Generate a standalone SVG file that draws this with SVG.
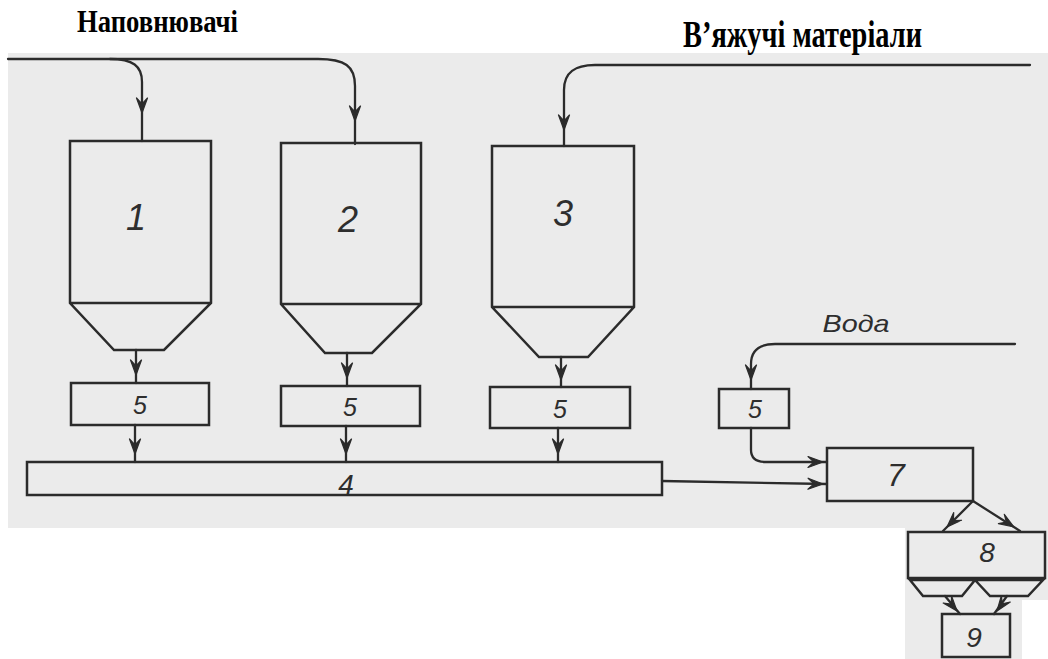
<svg xmlns="http://www.w3.org/2000/svg" xmlns:xlink="http://www.w3.org/1999/xlink" width="1048" height="659" viewBox="0 0 1048 659">
<style>
.ln{fill:none;stroke:#2b2b2b;stroke-width:2.3;stroke-linejoin:round;stroke-linecap:round}
.bx{fill:none;stroke:#2b2b2b;stroke-width:2.5;stroke-linejoin:miter}
.hd{font-family:"Liberation Sans","DejaVu Sans",sans-serif;font-style:italic;fill:#2e2e2e;text-anchor:middle}
.ttl{font-family:"Liberation Serif","DejaVu Serif",serif;font-weight:bold;fill:#000}
</style>
<defs>
<path id="ah" d="M0,0 L-15,-5.5 L-9,0 L-15,5.5 Z" fill="#2b2b2b" stroke="#2b2b2b" stroke-width="1.2" stroke-linejoin="round"/>
</defs>
<rect width="1048" height="659" fill="#ffffff"/>
<path d="M8,53 H1048 V600 H1022 V659 H905 V528 H8 Z" fill="#ebebeb"/>

<text class="ttl" x="77" y="32" font-size="32" textLength="161" lengthAdjust="spacingAndGlyphs">Наповнювачі</text>
<text class="ttl" x="683" y="47" font-size="37" textLength="239" lengthAdjust="spacingAndGlyphs">В’яжучі  матеріали</text>
<text class="hd" x="856" y="332" font-size="24" textLength="67" lengthAdjust="spacingAndGlyphs">Вода</text>

<g id="connectors">
<path class="ln" d="M8,59 H318 C345,59 355,66 355,86 V144"/>
<path class="ln" d="M110,59 C133,59 142,66 142,82 V141"/>
<path class="ln" d="M1030,65 H595 C575,65 564,72 564,90 V146"/>
<path class="ln" d="M1015,344 H775 C760,344 751,350 751,364 V389"/>
<path class="ln" d="M136,350 V383"/>
<path class="ln" d="M347,353 V386"/>
<path class="ln" d="M561,357 V387"/>
<path class="ln" d="M135,425 V462"/>
<path class="ln" d="M346,426 V462"/>
<path class="ln" d="M558,428 V462"/>
<path class="ln" d="M751,428 V450 C751,458 756,462 766,462 H827"/>
<path class="ln" d="M662,481 L827,484"/>
<path class="ln" d="M973,501 L943,531"/>
<path class="ln" d="M973,501 L1020,531"/>
<path class="ln" d="M945,596 L960,614"/>
<path class="ln" d="M1007,596 L994,614"/>
<use xlink:href="#ah" transform="translate(142,113) rotate(90)"/>
<use xlink:href="#ah" transform="translate(355,121) rotate(90)"/>
<use xlink:href="#ah" transform="translate(564,130) rotate(90)"/>
<use xlink:href="#ah" transform="translate(751,380) rotate(90)"/>
<use xlink:href="#ah" transform="translate(136,375) rotate(90)"/>
<use xlink:href="#ah" transform="translate(347,378) rotate(90)"/>
<use xlink:href="#ah" transform="translate(561,380) rotate(90)"/>
<use xlink:href="#ah" transform="translate(135,454) rotate(90)"/>
<use xlink:href="#ah" transform="translate(346,454) rotate(90)"/>
<use xlink:href="#ah" transform="translate(558,454) rotate(90)"/>
<use xlink:href="#ah" transform="translate(823,462)"/>
<use xlink:href="#ah" transform="translate(823,484) rotate(1)"/>
<use xlink:href="#ah" transform="translate(947,527) rotate(135)"/>
<use xlink:href="#ah" transform="translate(1014,527) rotate(32.5)"/>
<use xlink:href="#ah" transform="translate(957,611) rotate(50)"/>
<use xlink:href="#ah" transform="translate(997,611) rotate(126)"/>
</g>

<g id="bunker1">
<path class="bx" d="M70,141 H211 V303 L164,350 H114 L70,303 Z M70,303 H211"/>
<text class="hd" x="136" y="230" font-size="36">1</text>
</g>
<g id="bunker2">
<path class="bx" d="M281,143 H421 V304 L372,353 H325 L281,304 Z M281,304 H421"/>
<text class="hd" x="348" y="232" font-size="36">2</text>
</g>
<g id="bunker3">
<path class="bx" d="M492,146 H634 V307 L588,357 H539 L492,307 Z M492,307 H634"/>
<text class="hd" x="563" y="226" font-size="36">3</text>
</g>
<g id="doser1">
<rect class="bx" x="71" y="383" width="138" height="42"/>
<text class="hd" x="140" y="414" font-size="25">5</text>
</g>
<g id="doser2">
<rect class="bx" x="281" y="386" width="139" height="40"/>
<text class="hd" x="350" y="416" font-size="25">5</text>
</g>
<g id="doser3">
<rect class="bx" x="490" y="387" width="140" height="41"/>
<text class="hd" x="560" y="418" font-size="25">5</text>
</g>
<g id="doser4">
<rect class="bx" x="719" y="389" width="70" height="39"/>
<text class="hd" x="755" y="418" font-size="25">5</text>
</g>
<g id="conveyor4">
<rect class="bx" x="27" y="462" width="635" height="33"/>
<text class="hd" x="346" y="494" font-size="28">4</text>
</g>
<g id="mixer7">
<rect class="bx" x="827" y="448" width="146" height="53"/>
<text class="hd" x="896" y="486" font-size="32">7</text>
</g>
<g id="unit8">
<rect class="bx" x="908" y="532" width="137" height="46"/>
<path class="bx" d="M910,580 L923,596 H962 L975,580 Z M975,580 L990,596 H1028 L1043,580 Z"/>
<text class="hd" x="987" y="562" font-size="28">8</text>
</g>
<g id="unit9">
<rect class="bx" x="942" y="614" width="68" height="43"/>
<text class="hd" x="974" y="647" font-size="28">9</text>
</g>
</svg>
